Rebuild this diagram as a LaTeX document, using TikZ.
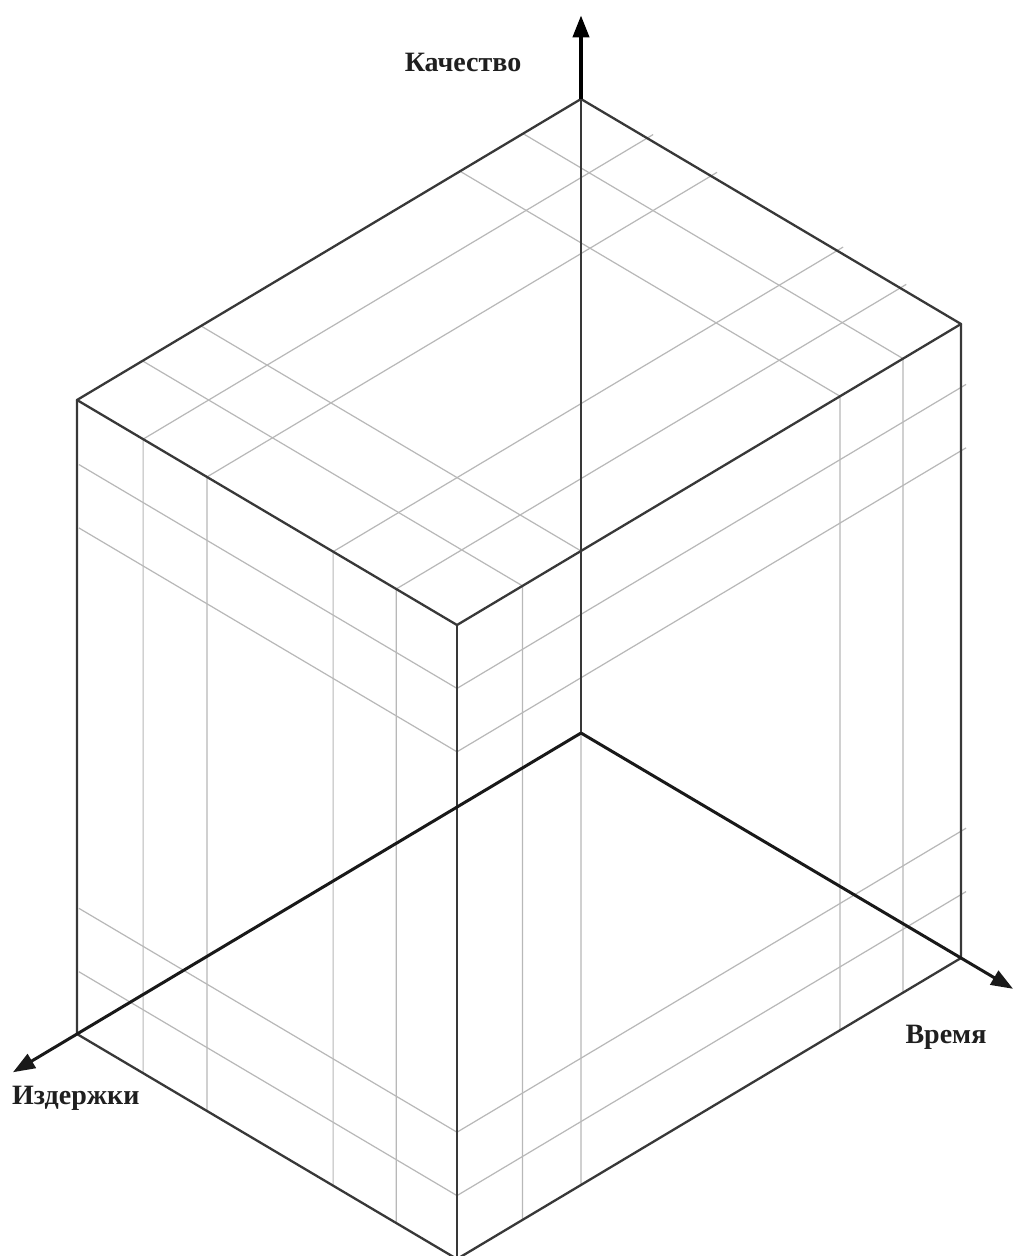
\documentclass[tikz,border=0pt]{standalone}
\usepackage{fontspec}
\setmainfont{Liberation Serif}
\usetikzlibrary{arrows.meta}
\begin{document}
\begin{tikzpicture}[x=1pt,y=-1pt,
  gridline/.style={draw=black!28, line width=1.2pt},
  edge/.style={draw=black!78, line width=2.3pt, line cap=round, line join=round},
  axis/.style={draw=black!90, line width=3pt, -{Triangle[length=22pt,width=16pt]}},
  axislabel/.style={font=\fontsize{28}{30}\selectfont\bfseries, text=black!88, inner sep=0pt}]
\useasboundingbox (0,0) rectangle (1014,1256);
\fill[white] (0,0) rectangle (1014,1256);
\begin{scope}[shift={(581pt,-99pt)}, x={(-504pt,-301pt)}, y={(380pt,-225pt)}, z={(0pt,-634pt)}]
  % corners
  \coordinate (T)  at (0,0,0);
  \coordinate (LT) at (1,0,0);
  \coordinate (RT) at (0,1,0);
  \coordinate (FT) at (1,1,0);
  \coordinate (O)  at (0,0,1);
  \coordinate (LB) at (1,0,1);
  \coordinate (RB) at (0,1,1);
  \coordinate (FB) at (1,1,1);
  \coordinate (Qtip) at (0,0,-0.132);
  \coordinate (Ctip) at (1.127,0,1);
  \coordinate (Ttip) at (0,1.137,1);
  % grid lines: constant a (top face + front-right face)
  \foreach \a in {0.115,0.24,0.754,0.87}
    \draw[gridline] (\a,0,0) -- (\a,1,0) -- (\a,1,1);
  % constant b (top face + front-left face)
  \foreach \b in {0.174,0.342,0.674,0.84}
    \draw[gridline] (-0.012,\b,0) -- (1,\b,0) -- (1,\b,1);
  % constant c (front-left + front-right faces)
  \foreach \c in {0.1,0.2,0.8,0.9}
    \draw[gridline] (1,0.005,\c) -- (1,1,\c) -- (-0.01,1,\c);
\end{scope}
% cube edges
\draw[edge] (T) -- (LT) -- (FT) -- (RT) -- cycle;
\draw[edge] (LT) -- (LB) -- (FB) -- (RB) -- (RT);
\draw[edge] (FT) -- (FB);
\draw[edge] (O) -- (T);
% axes
\draw[axis, line width=4pt, draw=black] (T) -- (Qtip);
\draw[axis] (O) -- (Ctip);
\draw[axis] (O) -- (Ttip);
% labels
\node[axislabel, anchor=base] (lq) at (463,71) {Качество};
\node[axislabel, anchor=base west] (lc) at (12,1104) {Издержки};
\node[axislabel, anchor=base] (lt) at (946,1043) {Время};
\end{tikzpicture}
\end{document}
